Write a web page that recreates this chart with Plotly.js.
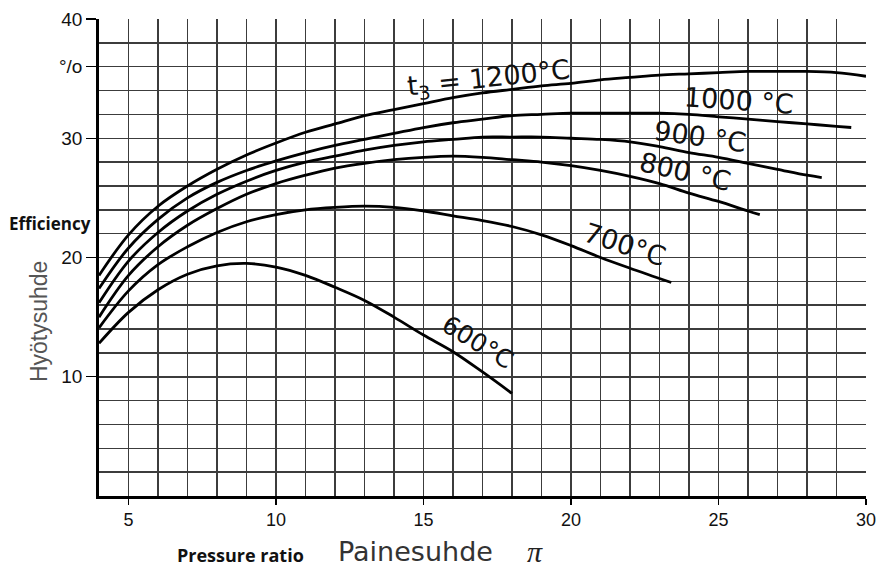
<!DOCTYPE html>
<html>
<head>
<meta charset="utf-8">
<script src="https://cdn.plot.ly/plotly-3.0.1.min.js"></script>
<style>html,body{margin:0;padding:0;background:#fff;}#chart{width:877px;height:567px;}</style>
</head>
<body>
<div id="chart"></div>
<script>
// Pressure ratio (x) and efficiency in % (y) for each turbine inlet temperature t3
const x600  = [4,5,6,7,8,9,10,11,12,13,14,15,16,17,18];
const y600  = [12.8,15.4,17.3,18.6,19.3,19.5,19.2,18.5,17.5,16.4,15.0,13.5,12.1,10.4,8.6];

const x700  = [4,5,6,7,8,9,10,11,12,13,14,15,16,17,18,19,20,21,22,23.4];
const y700  = [14.1,17.2,19.4,20.9,22.1,23.0,23.6,24.0,24.2,24.3,24.2,23.9,23.5,23.1,22.6,21.9,21.0,20.0,19.1,17.9];

const x800  = [4,5,6,7,8,9,10,11,12,13,14,15,16,17,18,19,20,21,22,23,24,25,26,26.4];
const y800  = [15.0,18.5,20.9,22.7,24.1,25.3,26.2,26.9,27.5,27.9,28.2,28.4,28.5,28.4,28.2,28.0,27.7,27.3,26.8,26.2,25.4,24.7,23.9,23.6];

const x900  = [4,5,6,7,8,9,10,11,12,13,14,15,16,17,18,19,20,21,22,23,24,25,26,27,28,28.5];
const y900  = [16.2,19.7,22.1,23.9,25.3,26.4,27.3,28.0,28.5,29.0,29.4,29.7,29.9,30.1,30.1,30.1,30.0,29.9,29.7,29.3,28.8,28.4,27.9,27.4,26.9,26.7];

const x1000 = [4,5,6,7,8,9,10,11,12,13,14,15,16,17,18,19,20,21,22,23,24,25,26,27,28,29,29.5];
const y1000 = [17.4,20.8,23.2,25.0,26.3,27.3,28.1,28.8,29.4,29.9,30.4,30.9,31.3,31.6,31.9,32.0,32.1,32.1,32.1,32.1,32.0,31.8,31.6,31.4,31.2,31.0,30.9];

const x1200 = [4,5,6,7,8,9,10,11,12,13,14,15,16,17,18,19,20,21,22,23,24,25,26,27,28,29,30];
const y1200 = [18.5,21.9,24.3,26.0,27.4,28.6,29.6,30.5,31.2,31.9,32.4,32.9,33.4,33.8,34.1,34.4,34.6,34.9,35.1,35.3,35.4,35.5,35.6,35.6,35.6,35.5,35.2];

const seriesNames = ['600°C','700°C','800°C','900°C','1000°C','1200°C'];
const seriesX = [x600,x700,x800,x900,x1000,x1200];
const seriesY = [y600,y700,y800,y900,y1000,y1200];

const curveLabels = ['600°C','700°C','800 °C','900 °C','1000 °C','t<sub>3</sub> = 1200°C'];
const labelX = [16.85,21.83,23.85,24.36,25.69,17.19];
const labelY = [12.9,21.1,27.2,30.15,33.15,34.9];
const labelAngle = [31,18,13,8,4,-6];
const labelSize = [25,27,27,27,27,27];

const xTickVals = [5,10,15,20,25,30];
const xTickText = ['5','10','15','20','25','30'];
const yTickVals = [10,20,30,36,40];
const yTickText = ['10','20','30','°/o','40'];

const traces = seriesX.map((xs,i)=>({
  x: xs, y: seriesY[i], name: seriesNames[i], type:'scatter', mode:'lines',
  line:{color:'#000', width:2.8, shape:'spline', smoothing:1.0},
  hoverinfo:'x+y+name'
}));

const gridCol = '#3c3c3c';
const annotations = curveLabels.map((t,i)=>({
  x: labelX[i], y: labelY[i], xref:'x', yref:'y', text:t, showarrow:false,
  textangle: labelAngle[i], xanchor:'center', yanchor:'middle',
  font:{family:'DejaVu Sans, Liberation Sans, sans-serif', size:labelSize[i], color:'#111'}
}));
annotations.push(
  {x:-0.008, y:0.572, xref:'paper', yref:'paper', text:'<b>Efficiency</b>', showarrow:false,
   xanchor:'right', yanchor:'middle', font:{family:'Open Sans, sans-serif', size:17, color:'#111'}},
  {x:-0.078, y:0.365, xref:'paper', yref:'paper', text:'Hyötysuhde', showarrow:false, textangle:-90,
   xanchor:'center', yanchor:'middle', font:{family:'Liberation Sans, Arial, sans-serif', size:23, color:'#555'}},
  {x:0.184, y:-0.124, xref:'paper', yref:'paper', text:'<b>Pressure ratio</b>', showarrow:false,
   xanchor:'center', yanchor:'middle', font:{family:'Open Sans, sans-serif', size:18, color:'#111'}},
  {x:0.412, y:-0.117, xref:'paper', yref:'paper', text:'Painesuhde', showarrow:false,
   xanchor:'center', yanchor:'middle', font:{family:'DejaVu Sans, Liberation Sans, sans-serif', size:27, color:'#333'}},
  {x:0.568, y:-0.117, xref:'paper', yref:'paper', text:'<i>π</i>', showarrow:false,
   xanchor:'center', yanchor:'middle', font:{family:'Liberation Serif, Times New Roman, serif', size:30, color:'#222'}}
);

const layout = {
  width:877, height:567,
  margin:{l:99, r:11, t:19, b:71},
  paper_bgcolor:'#fff', plot_bgcolor:'#fff',
  showlegend:false,
  xaxis:{
    range:[4,30], tickmode:'array', tickvals:xTickVals, ticktext:xTickText,
    showgrid:true, gridcolor:gridCol, gridwidth:1.5,
    minor:{tick0:0, dtick:1, showgrid:true, gridcolor:gridCol, gridwidth:1.5},
    showline:true, linecolor:'#000', linewidth:2.5,
    ticks:'outside', ticklen:6, tickcolor:'#000', tickwidth:1.2,
    tickfont:{family:'Liberation Sans Narrow, Arial Narrow, Liberation Sans, sans-serif', size:18, color:'#111'},
    zeroline:false, fixedrange:true
  },
  yaxis:{
    range:[0,40], tickmode:'array', tickvals:yTickVals, ticktext:yTickText,
    showgrid:true, gridcolor:gridCol, gridwidth:1.5,
    minor:{tick0:0, dtick:2, showgrid:true, gridcolor:gridCol, gridwidth:1.5},
    showline:true, linecolor:'#000', linewidth:2.8,
    ticks:'outside', ticklen:10, tickcolor:'#000', tickwidth:1.2,
    tickfont:{family:'Liberation Sans, Arial, sans-serif', size:19, color:'#111'},
    zeroline:false, fixedrange:true
  },
  annotations: annotations
};

Plotly.newPlot('chart', traces, layout, {displayModeBar:false, staticPlot:true});
</script>
</body>
</html>
